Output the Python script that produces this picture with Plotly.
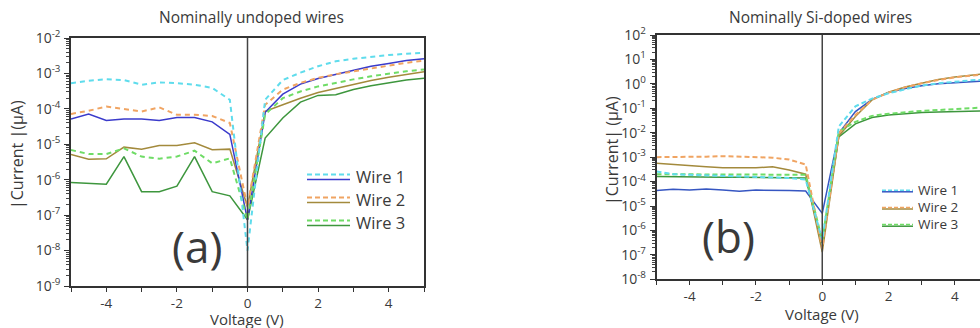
import plotly.graph_objects as go

voltage = [-5, -4.5, -4, -3.5, -3, -2.5, -2, -1.5, -1, -0.5, 0,
           0.5, 1, 1.5, 2, 2.5, 3, 3.5, 4, 4.5, 5]

# Panel (a): nominally undoped wires
a_w1_dash = [5.3e-4, 6.2e-4, 6.9e-4, 6.5e-4, 4.8e-4, 5.6e-4, 5.3e-4, 4.8e-4, 3.9e-4, 1.8e-4, 1.0e-8,
             1.8e-4, 6.5e-4, 1.05e-3, 1.6e-3, 2.2e-3, 2.6e-3, 3.0e-3, 3.3e-3, 3.6e-3, 3.8e-3]
a_w1_solid = [5.2e-5, 7.1e-5, 4.7e-5, 5.2e-5, 5.2e-5, 4.7e-5, 5.7e-5, 5.7e-5, 4.3e-5, 1.9e-5, 7.4e-8,
              8.0e-5, 2.6e-4, 5.0e-4, 7.2e-4, 9.5e-4, 1.25e-3, 1.6e-3, 1.9e-3, 2.3e-3, 2.6e-3]
a_w2_dash = [7.2e-5, 8.8e-5, 1.17e-4, 1.0e-4, 8.4e-5, 1.1e-4, 6.8e-5, 6.8e-5, 6.3e-5, 4.0e-5, 1.7e-7,
             1.3e-4, 3.5e-4, 5.4e-4, 7.5e-4, 9.5e-4, 1.15e-3, 1.4e-3, 1.7e-3, 2.0e-3, 2.3e-3]
a_w2_solid = [5.2e-6, 3.8e-6, 3.9e-6, 8.3e-6, 7.2e-6, 9.3e-6, 9.3e-6, 1.1e-5, 7.0e-6, 7.3e-6, 1.7e-7,
              8.5e-5, 1.3e-4, 2.0e-4, 2.9e-4, 3.8e-4, 4.9e-4, 6.3e-4, 7.8e-4, 9.5e-4, 1.12e-3]
a_w3_dash = [6.9e-6, 5.3e-6, 5.3e-6, 7.7e-6, 4.5e-6, 3.9e-6, 4.5e-6, 6.6e-6, 2.9e-6, 4.0e-6, 7.4e-8,
             7.0e-5, 2.0e-4, 3.1e-4, 4.3e-4, 5.5e-4, 6.8e-4, 8.3e-4, 1.0e-3, 1.15e-3, 1.3e-3]
a_w3_solid = [8.3e-7, 8.0e-7, 7.5e-7, 4.5e-6, 4.6e-7, 4.6e-7, 6.6e-7, 4.5e-6, 4.6e-7, 3.5e-7, 7.4e-8,
              1.5e-5, 5.5e-5, 1.55e-4, 2.4e-4, 2.5e-4, 3.5e-4, 4.5e-4, 5.5e-4, 6.5e-4, 7.3e-4]

# Panel (b): nominally Si-doped wires
b_w1_dash = [2.6e-4, 2.0e-4, 1.9e-4, 1.8e-4, 1.7e-4, 1.6e-4, 1.6e-4, 1.5e-4, 1.4e-4, 1.2e-4, 4.0e-7,
             1.8e-2, 1.2e-1, 2.5e-1, 4.1e-1, 6.0e-1, 8.5e-1, 1.05, 1.25, 1.4, 1.5]
b_w1_solid = [4.3e-5, 4.8e-5, 4.5e-5, 5.0e-5, 4.5e-5, 4.0e-5, 4.5e-5, 4.5e-5, 4.3e-5, 4.1e-5, 5.0e-6,
              9.5e-3, 7.3e-2, 2.3e-1, 4.4e-1, 6.5e-1, 8.4e-1, 1.0, 1.1, 1.25, 1.35]
b_w2_dash = [1.0e-3, 1.0e-3, 1.0e-3, 1.05e-3, 1.1e-3, 1.05e-3, 1.0e-3, 9.5e-4, 8.0e-4, 5.0e-4, 1.8e-7,
             9.5e-3, 5.3e-2, 2.2e-1, 4.4e-1, 7.2e-1, 1.05, 1.45, 1.85, 2.2, 2.5]
b_w2_solid = [5.6e-4, 5.0e-4, 4.3e-4, 4.0e-4, 3.7e-4, 3.7e-4, 3.7e-4, 4.0e-4, 3.0e-4, 2.0e-4, 1.3e-7,
              7.4e-3, 4.6e-2, 2.2e-1, 4.6e-1, 7.5e-1, 1.1, 1.5, 1.9, 2.3, 2.7]
b_w3_dash = [2.0e-4, 2.0e-4, 2.0e-4, 2.0e-4, 2.0e-4, 2.0e-4, 2.0e-4, 2.0e-4, 1.95e-4, 1.9e-4, 4.0e-7,
             1.1e-2, 2.8e-2, 4.9e-2, 6.0e-2, 7.0e-2, 7.8e-2, 8.5e-2, 9.3e-2, 1.0e-1, 1.1e-1]
b_w3_solid = [1.6e-4, 1.55e-4, 1.5e-4, 1.5e-4, 1.5e-4, 1.5e-4, 1.5e-4, 1.5e-4, 1.45e-4, 1.4e-4, 3.0e-7,
              6.8e-3, 2.3e-2, 4.2e-2, 5.3e-2, 6.0e-2, 6.8e-2, 7.0e-2, 7.2e-2, 7.5e-2, 7.9e-2]

wire_labels = ["Wire 1", "Wire 2", "Wire 3"]
x_ticks = [-4, -2, 0, 2, 4]
x_ticktext = ["-4", "-2", "0", "2", "4"]
a_decades = [-9, -8, -7, -6, -5, -4, -3, -2]
b_decades = [-8, -7, -6, -5, -4, -3, -2, -1, 0, 1, 2]

COL = dict(cyan="#5fdcec", blue="#3a3acb", orange="#f0a462", olive="#a38a3c",
           lgreen="#6fdc66", dgreen="#3d963d")
b_blue = "#3656c2"

FONT = "Open Sans"
TXT = "#3a3a3a"

fig = go.Figure()

def add(x, y, color, dash, xa, ya, width):
    fig.add_trace(go.Scatter(x=x, y=y, mode="lines", xaxis=xa, yaxis=ya, showlegend=False,
                             line=dict(color=color, dash=dash, width=width)))

# panel a
add(voltage, a_w3_solid, COL["dgreen"], "solid", "x", "y", 1.5)
add(voltage, a_w2_solid, COL["olive"], "solid", "x", "y", 1.5)
add(voltage, a_w1_solid, COL["blue"], "solid", "x", "y", 1.5)
add(voltage, a_w3_dash, COL["lgreen"], "5px,4px", "x", "y", 2)
add(voltage, a_w2_dash, COL["orange"], "5px,4px", "x", "y", 2)
add(voltage, a_w1_dash, COL["cyan"], "5px,4px", "x", "y", 2)
# panel b
add(voltage, b_w1_solid, b_blue, "solid", "x2", "y2", 1.5)
add(voltage, b_w3_solid, COL["dgreen"], "solid", "x2", "y2", 1.5)
add(voltage, b_w2_solid, COL["olive"], "solid", "x2", "y2", 1.5)
add(voltage, b_w3_dash, COL["lgreen"], "5px,3px", "x2", "y2", 2)
add(voltage, b_w2_dash, COL["orange"], "5px,3px", "x2", "y2", 2)
add(voltage, b_w1_dash, COL["cyan"], "5px,3px", "x2", "y2", 2)

W, H = 980, 328
def px(x): return x / W
def py(y): return 1 - y / H

def log_ticks(decades):
    vals = [10.0 ** d for d in decades]
    txt = ["10<sup>%d</sup>" % d for d in decades]
    minor = [k * 10.0 ** d for d in decades[:-1] for k in range(2, 10)]
    return vals, txt, minor

xcommon = dict(showgrid=False, zeroline=False, showline=True, linecolor="#333", linewidth=1.5,
               ticks="outside", ticklen=4, tickcolor="#333", tickmode="array",
               tickvals=x_ticks, ticktext=x_ticktext, automargin=False, ticklabelstandoff=0,
               minor=dict(ticks="outside", ticklen=4, dtick=1, tickcolor="#333"),
               tickfont=dict(family=FONT, size=13.5, color=TXT))

def ycommon(decades):
    vals, txt, minor = log_ticks(decades)
    return dict(type="log", showgrid=False, zeroline=False, showline=True, linecolor="#333",
                linewidth=1.5, ticks="outside", ticklen=5, tickcolor="#333",
                tickmode="array", tickvals=vals, ticktext=txt, automargin=False, ticklabelstandoff=1,
                minor=dict(ticks="outside", ticklen=3, tickmode="array", tickvals=minor,
                           tickcolor="#444"),
                tickfont=dict(family=FONT, size=14, color=TXT))

b_unit = (988 - 656.5) / 10
b_right = -5 + (980 - 656.5) / b_unit

fig.update_layout(
    width=W, height=H, margin=dict(l=0, r=0, t=0, b=0),
    paper_bgcolor="white", plot_bgcolor="white", showlegend=False,
    xaxis=dict(**xcommon, domain=[px(71), px(424)], range=[-5, 5], anchor="y", mirror=True),
    yaxis=dict(**ycommon(a_decades), domain=[py(286), py(38)], range=[-9, -2], anchor="x",
               mirror=True),
    xaxis2=dict(**xcommon, domain=[px(656.5), 1.0], range=[-5, b_right], anchor="y2", mirror=True),
    yaxis2=dict(**ycommon(b_decades), domain=[py(279.3), py(35)], range=[-8, 2], anchor="x2",
                mirror=False),
)

# zero-voltage vertical lines
for xr, yr in (("x", "y domain"), ("x2", "y2 domain")):
    fig.add_shape(type="line", xref=xr, yref=yr, x0=0, x1=0, y0=0, y1=1,
                  line=dict(color="#444", width=1.5))

ann = []
def text(x, y, s, size, angle=0, xanchor="center", color=TXT):
    ann.append(dict(x=px(x), y=py(y), xref="paper", yref="paper", text=s, showarrow=False,
                    textangle=angle, xanchor=xanchor, yanchor="middle",
                    font=dict(family=FONT, size=size, color=color)))

text(251, 17, "Nominally undoped wires", 15.5)
text(820, 17, "Nominally Si-doped wires", 15.5)
text(247.5, 318.5, "Voltage (V)", 15)
text(822, 313.5, "Voltage (V)", 15)
text(17, 155, "|Current |(μA)", 16, angle=-90)
text(612, 151, "|Current| (μA)", 16, angle=-90)
text(197, 246, "(a)", 44)
text(728, 236, "(b)", 44)

# legends (drawn manually: dashed + solid pair per wire)
leg_a = [(COL["cyan"], COL["blue"]), (COL["orange"], COL["olive"]), (COL["lgreen"], COL["dgreen"])]
for i, (dc, sc) in enumerate(leg_a):
    yc = 177 + i * 23
    fig.add_shape(type="line", xref="paper", yref="paper", x0=px(307), x1=px(350),
                  y0=py(yc - 2.5), y1=py(yc - 2.5), line=dict(color=dc, width=2, dash="5px,3px"))
    fig.add_shape(type="line", xref="paper", yref="paper", x0=px(307), x1=px(350),
                  y0=py(yc + 2.5), y1=py(yc + 2.5), line=dict(color=sc, width=1.5))
    text(354, yc - 1, wire_labels[i], 16.5, xanchor="left")

leg_b = [(COL["cyan"], b_blue), (COL["orange"], COL["olive"]), (COL["lgreen"], COL["dgreen"])]
for i, (dc, sc) in enumerate(leg_b):
    yc = 191 + i * 17.2
    fig.add_shape(type="line", xref="paper", yref="paper", x0=px(882), x1=px(913),
                  y0=py(yc + 0.8), y1=py(yc + 0.8), line=dict(color=sc, width=1.5))
    fig.add_shape(type="line", xref="paper", yref="paper", x0=px(882), x1=px(913),
                  y0=py(yc - 0.8), y1=py(yc - 0.8), line=dict(color=dc, width=1.5, dash="4px,2px"))
    text(916, yc - 1, wire_labels[i], 13.5, xanchor="left")

fig.update_layout(annotations=ann)
fig.write_html("out.html", config={"displayModeBar": False},
               post_script="document.body.style.margin='0';document.body.style.overflow='hidden';")
